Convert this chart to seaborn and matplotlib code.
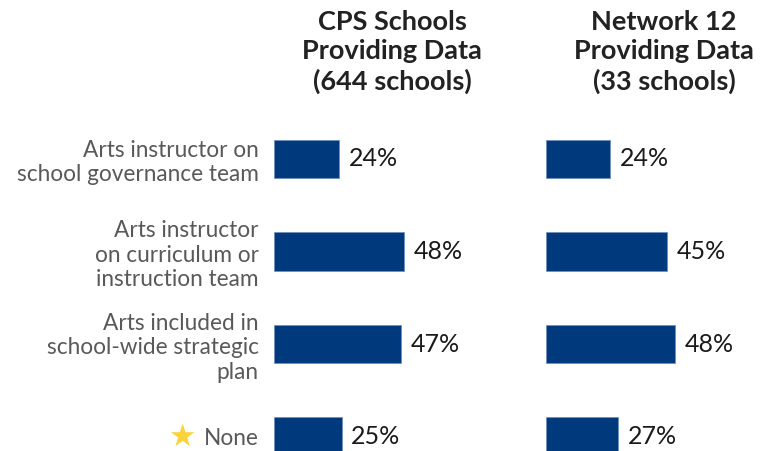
import matplotlib
matplotlib.use("Agg")
import matplotlib.pyplot as plt
import seaborn as sns
import pandas as pd

categories = [
    "Arts instructor on\nschool governance team",
    "Arts instructor\non curriculum or\ninstruction team",
    "Arts included in\nschool-wide strategic\nplan",
    "None",
]
cps_values = [24, 48, 47, 25]
network_values = [24, 45, 48, 27]
titles = ["CPS Schools\nProviding Data\n(644 schools)", "Network 12\nProviding Data\n(33 schools)"]

sns.set_theme(style="white")
plt.rcParams["font.family"] = ["Lato", "DejaVu Sans"]

BAR = "#003a7d"
W, H = 765, 451
fig = plt.figure(figsize=(W / 100, H / 100), dpi=100)

ax_bottom = (H - 482.75) / H
ax_height = 370 / H
ax1 = fig.add_axes([274 / W, ax_bottom, 216 / W, ax_height])
ax2 = fig.add_axes([545.5 / W, ax_bottom, 216 / W, ax_height])

df1 = pd.DataFrame({"cat": categories, "val": cps_values})
df2 = pd.DataFrame({"cat": categories, "val": network_values})

for ax, df in [(ax1, df1), (ax2, df2)]:
    sns.barplot(data=df, x="val", y="cat", orient="h", color=BAR, ax=ax,
                width=0.42, saturation=1, edgecolor="#6f8fbf", linewidth=0.6)
    ax.set_xlim(0, 80)
    ax.set_ylim(3.5, -0.5)
    ax.set_xlabel("")
    ax.set_ylabel("")
    ax.set_xticks([])
    for s in ax.spines.values():
        s.set_visible(False)
    for i, v in enumerate(df["val"]):
        ax.text(v + 3.6, i, f"{v}%", va="center", ha="left", fontsize=18,
                color="#1a1a1a")

ax1.set_yticks(range(len(categories)))
ax1.set_yticklabels(categories, fontsize=16.3, color="#595959", linespacing=1.2)
ax1.tick_params(axis="y", length=0, pad=11)
ax2.set_yticks([])

# star before "None"
fig.text(182 / W, 1 - 437 / H, "\u2605", fontsize=22, color="#f9d23c",
         ha="center", va="center", family="DejaVu Sans")

fig.text(392 / W, 1 - 52 / H, titles[0], ha="center", va="center",
         fontsize=19.5, fontweight="bold", color="#222222", linespacing=1.25)
fig.text(664 / W, 1 - 52 / H, titles[1], ha="center", va="center",
         fontsize=19.5, fontweight="bold", color="#222222", linespacing=1.25)

fig.savefig("out.png", dpi=100)
